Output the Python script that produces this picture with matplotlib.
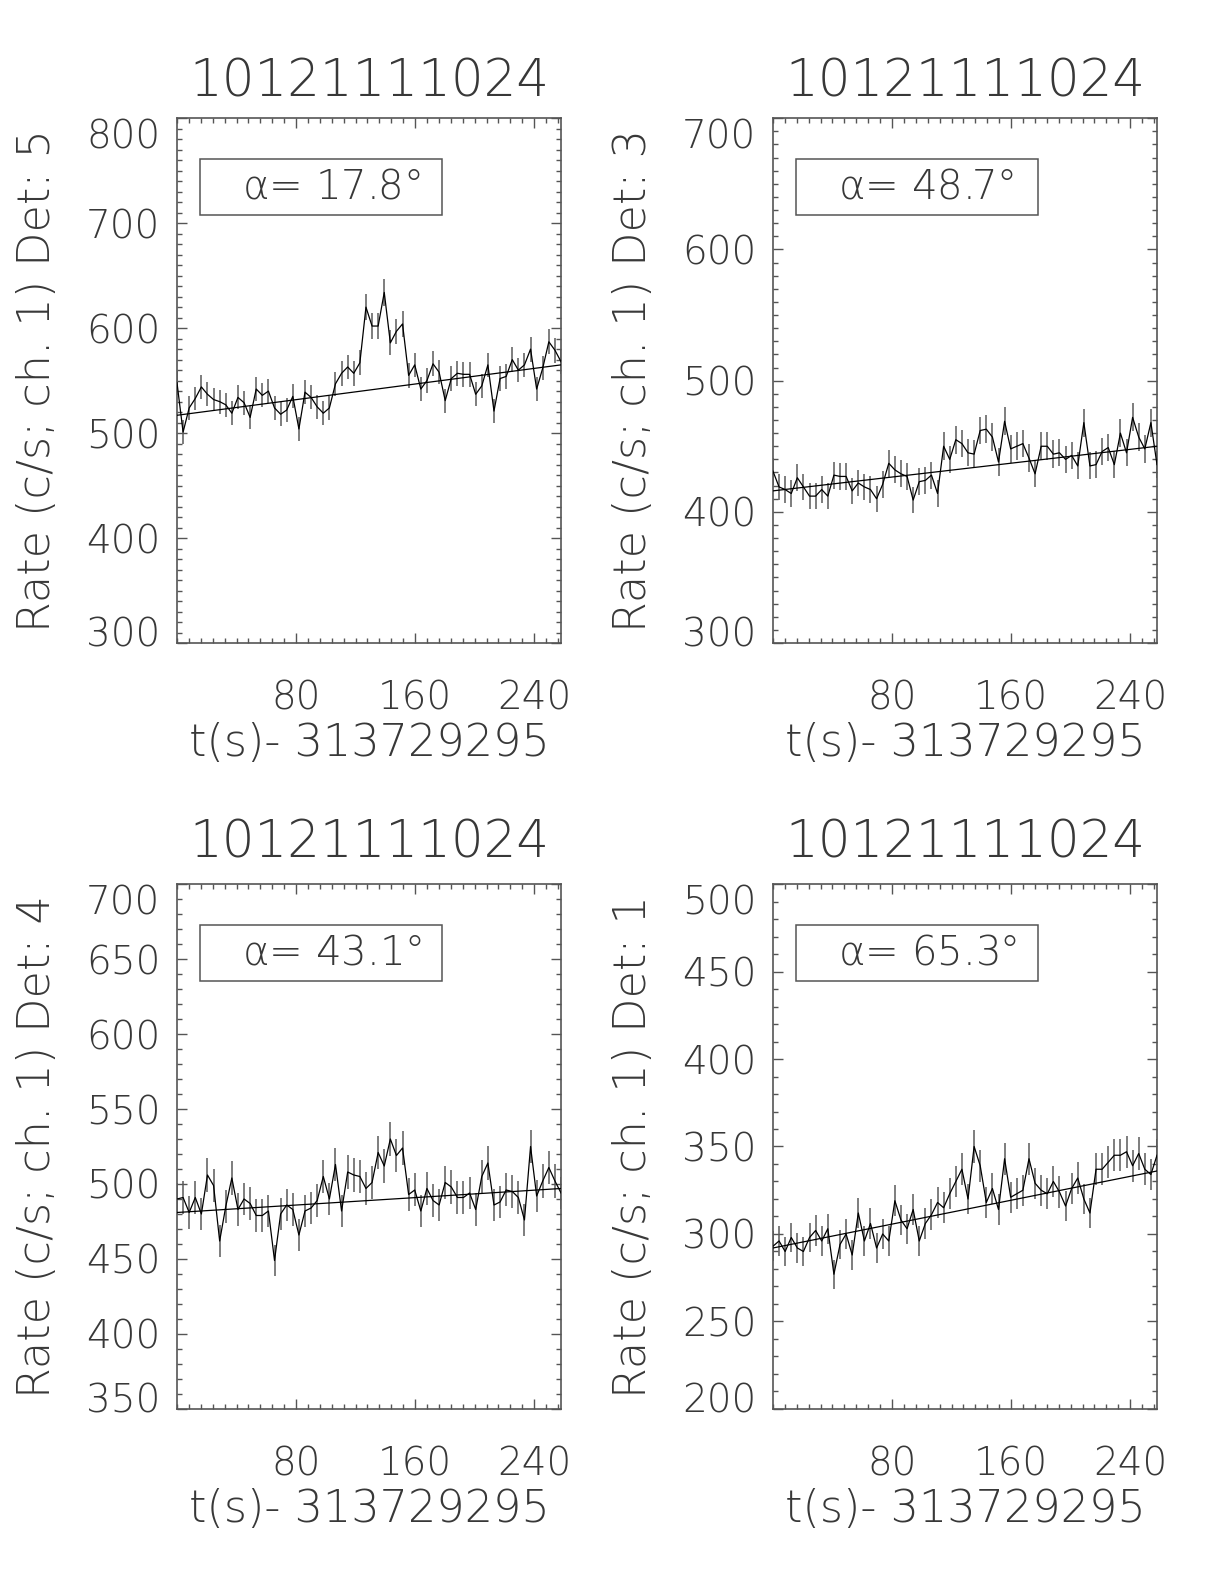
import matplotlib
matplotlib.use("Agg")
import matplotlib.pyplot as plt
from matplotlib.ticker import MultipleLocator
from matplotlib.transforms import ScaledTranslation
import numpy as np

# time binning of the light curves (s) and time origin
BIN_S = 4.096
T0 = "313729295"
TITLE = "10121111024"

# count rates, one list per detector panel
rate_det5 = [548, 501, 524, 533, 544, 537, 532, 530, 527, 519, 534, 529, 515, 542, 536, 540,
             524, 518, 522, 535, 504, 539, 534, 525, 519, 524, 547, 557, 563, 557, 567, 620,
             602, 602, 634, 586, 597, 604, 555, 565, 542, 550, 566, 558, 531, 552, 557, 556,
             556, 537, 545, 565, 521, 552, 554, 570, 560, 565, 580, 542, 562, 587, 579, 568]
rate_det3 = [431, 419, 417, 414, 426, 419, 412, 412, 417, 412, 428, 427, 427, 416, 422, 419,
             417, 410, 421, 437, 432, 429, 427, 409, 423, 424, 428, 414, 450, 440, 455, 452,
             445, 444, 462, 463, 457, 438, 469, 448, 450, 452, 441, 429, 450, 450, 444, 445,
             440, 443, 435, 468, 435, 436, 446, 449, 436, 460, 445, 472, 457, 448, 468, 436]
rate_det4 = [490, 491, 481, 491, 480, 506, 499, 462, 485, 504, 483, 490, 487, 479, 479, 482,
             449, 480, 486, 483, 466, 482, 484, 489, 505, 490, 513, 482, 508, 506, 505, 497,
             501, 521, 512, 530, 519, 524, 493, 496, 482, 497, 489, 486, 501, 498, 491, 491,
             494, 483, 505, 514, 486, 488, 496, 495, 491, 476, 525, 492, 502, 511, 502, 494]
rate_det1 = [293, 296, 290, 298, 292, 290, 298, 302, 296, 303, 277, 294, 300, 288, 312, 296,
             306, 292, 300, 296, 319, 308, 303, 314, 296, 306, 311, 318, 315, 323, 330, 337,
             320, 350, 339, 318, 326, 314, 343, 321, 323, 325, 343, 329, 325, 323, 330, 324,
             316, 326, 332, 320, 312, 337, 337, 341, 345, 345, 347, 339, 346, 337, 334, 345]

# linear background fit: value at start and end of the window
fit_det5 = [517, 565]
fit_det3 = [416, 450]
fit_det4 = [481, 497]
fit_det1 = [292, 336]

alphas = [17.8, 48.7, 43.1, 65.3]
dets = [5, 3, 4, 1]
ylims = [(300, 800), (300, 700), (350, 700), (200, 500)]
ymajor = [100, 100, 50, 50]

rates = [rate_det5, rate_det3, rate_det4, rate_det1]
fits = [fit_det5, fit_det3, fit_det4, fit_det1]

XMAX = 258.0
TXT = "#383838"
EDGE = "#555555"

# thin IDL-like lettering
plt.rcParams["font.family"] = "DejaVu Sans"
plt.rcParams["font.weight"] = 200
plt.rcParams["mathtext.fontset"] = "custom"
plt.rcParams["mathtext.rm"] = "DejaVu Sans:weight=200"
plt.rcParams["mathtext.it"] = "DejaVu Sans:weight=200"

fig = plt.figure(figsize=(12.24, 15.84), dpi=100)
positions = [[0.1446, 0.594, 0.3137, 0.3314],
             [0.6315, 0.594, 0.3137, 0.3314],
             [0.1446, 0.1105, 0.3137, 0.3314],
             [0.6315, 0.1105, 0.3137, 0.3314]]
title_y = [1.068, 1.068, 1.078, 1.078]

for k in range(4):
    ax = fig.add_axes(positions[k])
    r = np.array(rates[k], dtype=float)
    t = np.arange(len(r)) * BIN_S
    err = np.sqrt(r / BIN_S)

    ax.vlines(t, r - err, r + err, color="#5a5a5a", lw=1.1, zorder=2)
    ax.plot(t, r, color="black", lw=0.9, zorder=3)
    ax.plot([0, XMAX], fits[k], color="black", lw=0.9, zorder=3)

    lo, hi = ylims[k]
    ax.set_xlim(0, XMAX)
    ax.set_ylim(lo, hi)
    ax.set_xticks([80, 160, 240])
    ax.set_yticks(np.arange(lo, hi + 1, ymajor[k]))
    ax.xaxis.set_minor_locator(MultipleLocator(8))
    ax.yaxis.set_minor_locator(MultipleLocator(10))
    ax.tick_params(which="both", direction="in", top=True, right=True,
                   color=EDGE, labelcolor=TXT, labelsize=28)
    ax.tick_params(which="major", length=7.5, width=1.0)
    ax.tick_params(which="minor", length=3.5, width=1.0)
    ax.tick_params(axis="x", pad=26)
    ax.tick_params(axis="y", pad=12)
    for s in ax.spines.values():
        s.set_color(EDGE)
        s.set_linewidth(1.2)

    # end labels sit a little inside the axis range, as in IDL
    ylabs = ax.get_yticklabels()
    ylabs[0].set_transform(ylabs[0].get_transform() + ScaledTranslation(0, 8 / 72, fig.dpi_scale_trans))
    ylabs[-1].set_transform(ylabs[-1].get_transform() + ScaledTranslation(0, -11 / 72, fig.dpi_scale_trans))

    ax.text(0.5, title_y[k], TITLE, transform=ax.transAxes, ha="center", va="center",
            fontsize=37, color=TXT)
    ax.text(0.5, -0.192, "t(s)- " + T0, transform=ax.transAxes, ha="center",
            va="center", fontsize=32, color=TXT)
    ax.text(-0.362, 0.5, "Rate (c/s; ch. 1) Det: %d" % dets[k], transform=ax.transAxes,
            ha="center", va="center", rotation=90, fontsize=32, color=TXT)

    # alpha box
    ax.add_patch(plt.Rectangle((0.06, 0.815), 0.63, 0.107, transform=ax.transAxes,
                               fill=False, edgecolor=EDGE, lw=1.1, zorder=4))
    ax.text(0.17, 0.868, r"$\alpha$= %.1f°" % alphas[k], transform=ax.transAxes,
            ha="left", va="center", fontsize=29, color=TXT, zorder=5)

fig.savefig("out.png", dpi=100, facecolor="white")
